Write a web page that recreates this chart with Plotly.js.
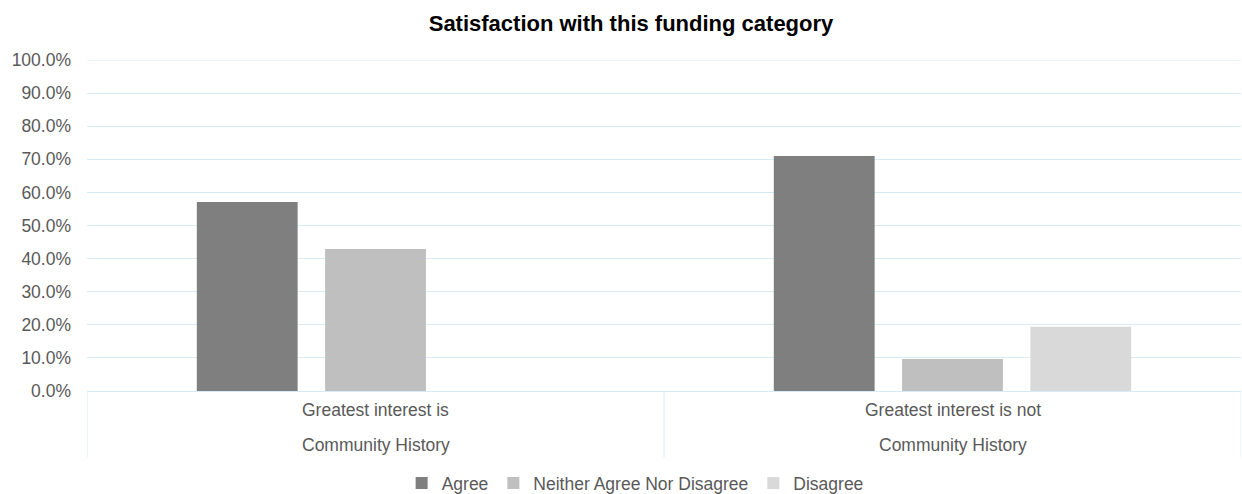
<!DOCTYPE html>
<html>
<head>
<meta charset="utf-8">
<script src="https://cdn.plot.ly/plotly-3.0.1.min.js"></script>
<style>html,body{margin:0;padding:0;background:#fff;}#chart{width:1242px;height:494px;}</style>
</head>
<body>
<div id="chart"></div>
<script>
var categories = ["Greatest interest is<br>Community History", "Greatest interest is not<br>Community History"];
var labelLine1 = ["Greatest interest is", "Greatest interest is not"];
var labelLine2 = ["Community History", "Community History"];
var seriesNames = ["Agree", "Neither Agree Nor Disagree", "Disagree"];
var agree = [0.571, 0.710];
var neither = [0.429, 0.097];
var disagree = [0.0, 0.194];
var colors = ["#7f7f7f", "#bfbfbf", "#d9d9d9"];

var seriesValues = [agree, neither, disagree];
var traces = seriesNames.map(function(n, i){
  return {type:'bar', name:n, x:categories, y:seriesValues[i],
    marker:{color:colors[i], line:{width:0}}, hoverinfo:'skip'};
});

var FONT = 'Liberation Sans, Arial, sans-serif';
var TXT = '#595959';
var FS = 17.5;
var grid = '#d9eaf7';
var annotations = [];
categories.forEach(function(c, i){
  annotations.push({x:c, xref:'x', y:-0.0574, yref:'paper', text:labelLine1[i], showarrow:false,
    yanchor:'middle', font:{family:FONT, size:FS, color:TXT}});
  annotations.push({x:c, xref:'x', y:-0.163, yref:'paper', text:labelLine2[i], showarrow:false,
    yanchor:'middle', font:{family:FONT, size:FS, color:TXT}});
});
var shapes = [];
[-0.5, 0.5, 1.5].forEach(function(v){
  shapes.push({type:'line', xref:'x', yref:'paper', x0:v, x1:v, y0:0, y1:-0.2, line:{color:grid, width:1}});
});
shapes.push({type:'line', xref:'paper', yref:'y', x0:0, x1:1, y0:1, y1:1, line:{color:grid, width:1}});

var layout = {
  width:1242, height:494,
  margin:{l:87, r:1, t:60, b:103, autoexpand:false},
  paper_bgcolor:'#fff', plot_bgcolor:'#fff',
  font:{family:FONT, size:FS, color:TXT},
  title:{text:'<b>Satisfaction with this funding category</b>', x:631/1242, xanchor:'center', xref:'container',
    y:1-23/494, yanchor:'middle', yref:'container', font:{family:FONT, size:22, color:'#000'}},
  barmode:'group', bargap:0.333, bargroupgap:0.214,
  xaxis:{type:'category', range:[-0.5,1.5], showticklabels:false, showgrid:false, zeroline:false,
    showline:false, ticks:''},
  yaxis:{range:[0,1], dtick:0.1, tickformat:'.1%', gridcolor:grid, gridwidth:1, zeroline:true,
    zerolinecolor:grid, zerolinewidth:1, showline:false, ticks:'', ticklabelstandoff:15,
    tickfont:{family:FONT, size:FS, color:TXT}},
  legend:{orientation:'h', x:0.475, xanchor:'center', y:-0.278, yanchor:'middle',
    font:{family:FONT, size:FS, color:TXT}, itemwidth:30, traceorder:'normal'},
  annotations:annotations, shapes:shapes
};
Plotly.newPlot('chart', traces, layout, {displayModeBar:false, staticPlot:true});
</script>
</body>
</html>
